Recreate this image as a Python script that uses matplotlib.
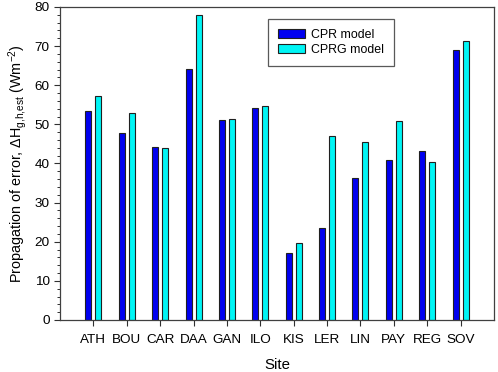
import matplotlib
matplotlib.use("Agg")
import matplotlib.pyplot as plt
import numpy as np
from matplotlib.ticker import MultipleLocator

plt.rcParams['font.family'] = ['Liberation Sans', 'DejaVu Sans']
plt.rcParams['mathtext.fontset'] = 'custom'
plt.rcParams['mathtext.rm'] = 'Liberation Sans'
plt.rcParams['mathtext.it'] = 'Liberation Sans:italic'
plt.rcParams['mathtext.bf'] = 'Liberation Sans:bold'

sites = ['ATH', 'BOU', 'CAR', 'DAA', 'GAN', 'ILO', 'KIS', 'LER', 'LIN', 'PAY', 'REG', 'SOV']
cpr = [53.5, 47.9, 44.3, 64.2, 51.0, 54.2, 17.1, 23.5, 36.3, 41.0, 43.1, 69.0]
cprg = [57.2, 52.8, 44.0, 77.9, 51.5, 54.6, 19.8, 47.0, 45.4, 50.9, 40.4, 71.3]
series_labels = ['CPR model', 'CPRG model']

fig = plt.figure(figsize=(4.98, 3.72), dpi=100)
ax = fig.add_axes([0.1205, 0.1398, 0.8715, 0.8414])

x = np.arange(len(sites))
w = 0.18
ax.bar(x - 0.15, cpr, width=w, color='#0000F0', edgecolor='#202020', linewidth=0.8, label=series_labels[0])
ax.bar(x + 0.15, cprg, width=w, color='#00F5F5', edgecolor='#202020', linewidth=0.8, label=series_labels[1])

ax.set_xlim(-1, 12)
ax.set_ylim(0, 80)
ax.set_xticks(x)
ax.set_xticklabels(sites)
ax.yaxis.set_major_locator(MultipleLocator(10))
ax.yaxis.set_minor_locator(MultipleLocator(2))
ax.tick_params(axis='both', which='major', direction='out', length=4, width=0.8, labelsize=9.7, colors='#303030', labelcolor='black')
ax.tick_params(axis='y', which='minor', direction='out', length=2.2, width=0.7, colors='#303030')
ax.tick_params(axis='x', pad=6)
for s in ax.spines.values():
    s.set_color('#404040')
    s.set_linewidth(0.9)

ax.set_xlabel('Site', fontsize=10.8, labelpad=9)
ax.set_ylabel(r'Propagation of error, $\Delta$H$_{\mathrm{g{,}h{,}est}}$ (Wm$^{-2}$)', fontsize=10.4, labelpad=4)

leg = ax.legend(loc='upper left', bbox_to_anchor=(0.479, 0.962), borderaxespad=0,
                fancybox=False, frameon=True, fontsize=8.9, handlelength=2.2,
                handleheight=0.75, labelspacing=0.25, borderpad=0.8, handletextpad=0.5)
leg.get_frame().set_edgecolor('#303030')
leg.get_frame().set_linewidth(0.9)

fig.savefig('out.png', dpi=100)
